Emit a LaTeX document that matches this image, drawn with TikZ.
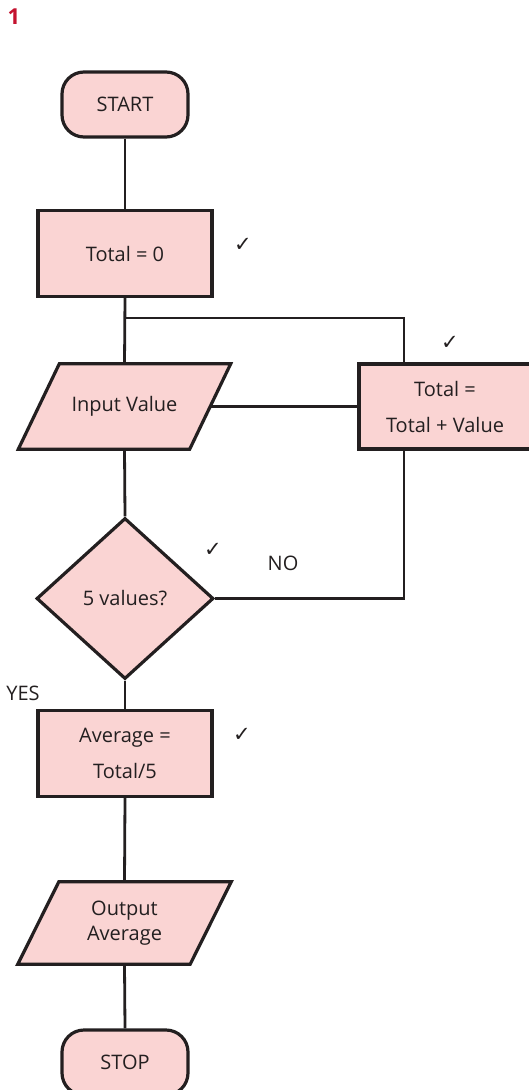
\documentclass[tikz,border=0pt]{standalone}
\usepackage{fontspec}
\setmainfont{Open Sans}
\newfontfamily\symfont{DejaVu Sans}
\usetikzlibrary{shapes.geometric,backgrounds,calc}
\definecolor{boxfill}{HTML}{FAD4D3}
\definecolor{ink}{HTML}{231F20}
\definecolor{numred}{HTML}{C4122F}
\tikzset{
  base/.style={draw=ink, line width=3.2pt, fill=boxfill, text=ink,
    font=\fontsize{20}{25}\selectfont, inner sep=0pt, align=center},
  terminal/.style={base, rectangle, rounded corners=22pt, minimum width=126pt, minimum height=65pt},
  process/.style={base, rectangle, minimum width=174pt, minimum height=86pt,
    font=\fontsize{20}{36}\selectfont},
  decision/.style={base, diamond, minimum width=177pt, minimum height=161pt},
  iobox/.style={rectangle, text=ink, font=\fontsize{20}{25}\selectfont, align=center, inner sep=0pt},
  para/.style={draw=ink, line width=3.2pt, fill=boxfill, line join=miter},
  conn/.style={draw=ink, line width=2.8pt},
  tick/.style={text=ink, inner sep=0pt, font=\symfont\fontsize{21}{21}\selectfont},
  lbl/.style={text=ink, inner sep=0pt, font=\fontsize{20}{20}\selectfont},
  numlbl/.style={text=numred, inner sep=0pt, font=\bfseries\fontsize{22}{22}\selectfont},
}
\begin{document}
\begin{tikzpicture}[x=1pt,y=-1pt]
\useasboundingbox (0,0) rectangle (528,1090);

\node[numlbl] (num) at (14,17) {1};

\node[terminal] (start) at (125,104.5) {START};
\node[process] (t0) at (125,253.5) {Total = 0};
\node[tick] (chk1) at (243,245) {✓};

\node[iobox, minimum width=171pt, minimum height=85pt] (in) at (124.5,406.5) {Input Value};
\begin{scope}[on background layer]
\path[para] ($(in.north west)+(20.5,0)$) -- ($(in.north east)+(20.5,0)$)
   -- ($(in.south east)+(-20.5,0)$) -- ($(in.south west)+(-20.5,0)$) -- cycle;
\end{scope}

\node[process, minimum width=172pt, minimum height=85pt] (add) at (445,406.5) {Total =\\Total + Value};
\node[tick] (chk2) at (450,343) {✓};

\node[decision] (dia) at (125,598.5) {5 values?};
\node[tick] (chk3) at (213,550) {✓};
\node[lbl] (no) at (283,563) {NO};
\node[lbl] (yes) at (23,693) {YES};

\node[process] (avg) at (125,753.5) {Average =\\Total/5};
\node[tick] (chk4) at (242,735) {✓};

\node[iobox, minimum width=172pt, minimum height=82pt] (out) at (124.5,923) {Output\\Average};
\begin{scope}[on background layer]
\path[para] ($(out.north west)+(20.5,0)$) -- ($(out.north east)+(20.5,0)$)
   -- ($(out.south east)+(-20.5,0)$) -- ($(out.south west)+(-20.5,0)$) -- cycle;
\end{scope}

\node[terminal] (stop) at (125,1062.5) {STOP};

\coordinate (j1) at (125,318);
\coordinate (j2) at (404,318);
\coordinate (c1) at (j2 |- dia.east);

\draw[conn] (start.south) -- (t0.north);
\draw[conn] (t0.south) -- (in.north);
\draw[conn] (j1) -- (j2) -- (j2 |- add.north);
\draw[conn] (in.east) -- (add.west);
\draw[conn] (in.south) -- (dia.north);
\draw[conn] (dia.east) -- (c1) -- (c1 |- add.south);
\draw[conn] (dia.south) -- (avg.north);
\draw[conn] (avg.south) -- (out.north);
\draw[conn] (out.south) -- (stop.north);
\end{tikzpicture}
\end{document}
